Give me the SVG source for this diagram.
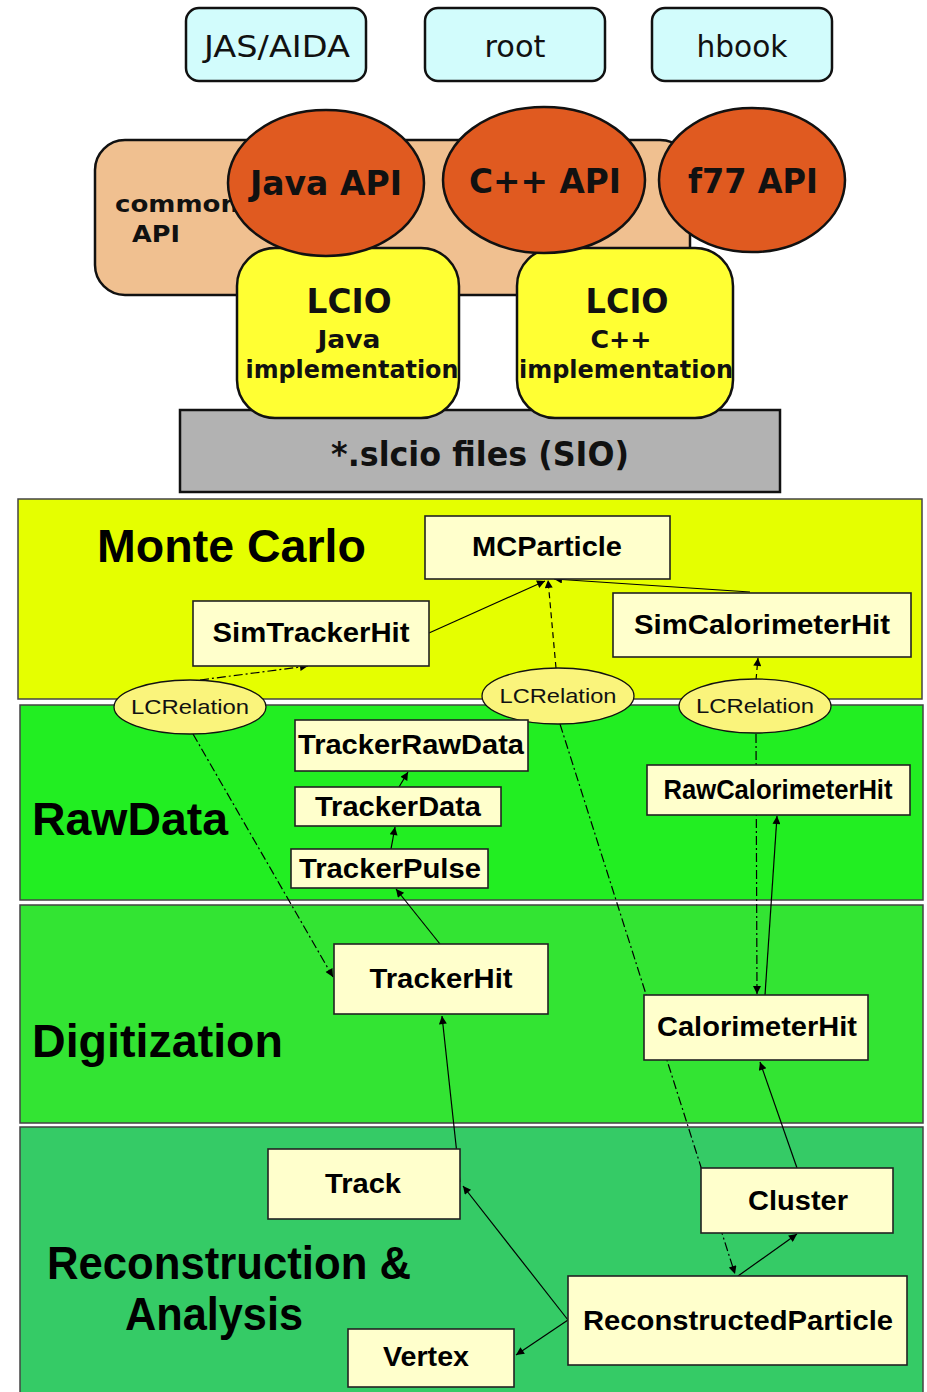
<svg xmlns="http://www.w3.org/2000/svg" width="927" height="1392" viewBox="0 0 927 1392">
  <style>
    .tool { fill: #D2FCFC; stroke: #111; stroke-width: 2.5; }
    .tooltxt { font-family: "DejaVu Sans", "Liberation Sans", sans-serif; font-size: 31px; fill: #111; text-anchor: middle; }
    .api { fill: #E05A20; stroke: #111; stroke-width: 2.5; }
    .apitxt { font-family: "DejaVu Sans", "Liberation Sans", sans-serif; font-weight: bold; font-size: 33px; fill: #111; text-anchor: middle; }
    .impl { fill: #FFFF33; stroke: #111; stroke-width: 2.5; }
    .impltxt { font-family: "DejaVu Sans", "Liberation Sans", sans-serif; font-weight: bold; fill: #111; text-anchor: middle; }
    .band { stroke: #444; stroke-width: 1.5; }
    .bandtxt { font-family: "Liberation Sans", Arial, sans-serif; font-weight: bold; font-size: 47px; fill: #000; }
    .node { fill: #FFFFCC; stroke: #222; stroke-width: 1.6; }
    .nodetxt { font-family: "Liberation Sans", Arial, sans-serif; font-weight: bold; font-size: 28px; fill: #000; text-anchor: middle; }
    .rel { fill: #FAF47C; stroke: #111; stroke-width: 1.3; }
    .reltxt { font-family: "Liberation Sans", Arial, sans-serif; font-size: 21px; fill: #111; text-anchor: middle; }
    .link { stroke: #000; stroke-width: 1.2; fill: none; marker-end: url(#arr); }
    .dashdot { stroke-dasharray: 9 3 2 3; }
    .dash { stroke-dasharray: 6 4; }
  </style>
  <defs>
    <marker id="arr" viewBox="0 0 10 10" refX="10" refY="5" markerWidth="11" markerHeight="8" markerUnits="userSpaceOnUse" orient="auto">
      <path d="M0,0 L10,5 L0,10 z" fill="#000"/>
    </marker>
  </defs>

  <rect width="927" height="1392" fill="#FFFFFF"/>

  <!-- analysis tools -->
  <g id="jas-aida">
    <rect class="tool" x="186" y="8" width="180" height="73" rx="13"/>
    <text class="tooltxt" x="277" y="57" textLength="146" lengthAdjust="spacingAndGlyphs">JAS/AIDA</text>
  </g>
  <g id="root">
    <rect class="tool" x="425" y="8" width="180" height="73" rx="13"/>
    <text class="tooltxt" x="515" y="57" textLength="61" lengthAdjust="spacingAndGlyphs">root</text>
  </g>
  <g id="hbook">
    <rect class="tool" x="652" y="8" width="180" height="73" rx="13"/>
    <text class="tooltxt" x="742" y="57" textLength="91" lengthAdjust="spacingAndGlyphs">hbook</text>
  </g>

  <!-- file layer and API stack -->
  <g id="slcio-files">
    <rect x="180" y="410" width="600" height="82" fill="#B2B2B2" stroke="#111" stroke-width="2.5"/>
    <text class="apitxt" x="480" y="466" textLength="298" lengthAdjust="spacingAndGlyphs">*.slcio files (SIO)</text>
  </g>
  <g id="common-api">
    <rect x="95" y="140" width="595" height="155" rx="30" fill="#F0C090" stroke="#111" stroke-width="2.5"/>
    <text class="impltxt" font-size="23" x="177" y="212" textLength="124" lengthAdjust="spacingAndGlyphs">common</text>
    <text class="impltxt" font-size="23" x="156" y="242" textLength="48" lengthAdjust="spacingAndGlyphs">API</text>
  </g>
  <g id="lcio-java">
    <rect class="impl" x="237" y="248" width="222" height="170" rx="38"/>
    <text class="impltxt" font-size="33" x="349" y="313" textLength="85" lengthAdjust="spacingAndGlyphs">LCIO</text>
    <text class="impltxt" font-size="25" x="349" y="348" textLength="63" lengthAdjust="spacingAndGlyphs">Java</text>
    <text class="impltxt" font-size="25" x="352" y="378" textLength="213" lengthAdjust="spacingAndGlyphs">implementation</text>
  </g>
  <g id="lcio-cpp">
    <rect class="impl" x="517" y="248" width="216" height="170" rx="38"/>
    <text class="impltxt" font-size="33" x="627" y="313" textLength="83" lengthAdjust="spacingAndGlyphs">LCIO</text>
    <text class="impltxt" font-size="25" x="621" y="348" textLength="61" lengthAdjust="spacingAndGlyphs">C++</text>
    <text class="impltxt" font-size="25" x="626" y="378" textLength="214" lengthAdjust="spacingAndGlyphs">implementation</text>
  </g>
  <g id="java-api">
    <ellipse class="api" cx="326" cy="183" rx="98" ry="73"/>
    <text class="apitxt" x="326" y="195" textLength="152" lengthAdjust="spacingAndGlyphs">Java API</text>
  </g>
  <g id="cpp-api">
    <ellipse class="api" cx="544" cy="180" rx="101" ry="73"/>
    <text class="apitxt" x="545" y="193" textLength="152" lengthAdjust="spacingAndGlyphs">C++ API</text>
  </g>
  <g id="f77-api">
    <ellipse class="api" cx="752" cy="180" rx="93" ry="72"/>
    <text class="apitxt" x="753" y="193" textLength="130" lengthAdjust="spacingAndGlyphs">f77 API</text>
  </g>

  <!-- data layers -->
  <g id="layer-montecarlo">
    <rect class="band" x="18" y="499" width="904" height="200" fill="#E5FF00"/>
    <text class="bandtxt" x="97" y="562" textLength="269" lengthAdjust="spacingAndGlyphs">Monte Carlo</text>
  </g>
  <g id="layer-rawdata">
    <rect class="band" x="20" y="705" width="903" height="195" fill="#22EE22"/>
    <text class="bandtxt" x="32" y="835" textLength="196" lengthAdjust="spacingAndGlyphs">RawData</text>
  </g>
  <g id="layer-digitization">
    <rect class="band" x="20" y="905" width="903" height="218" fill="#33E433"/>
    <text class="bandtxt" x="32" y="1057" textLength="251" lengthAdjust="spacingAndGlyphs">Digitization</text>
  </g>
  <g id="layer-reconstruction">
    <rect class="band" x="20" y="1127" width="903" height="268" fill="#35CB66"/>
    <text class="bandtxt" x="47" y="1279" textLength="364" lengthAdjust="spacingAndGlyphs">Reconstruction &amp;</text>
    <text class="bandtxt" x="125" y="1330" textLength="178" lengthAdjust="spacingAndGlyphs">Analysis</text>
  </g>

  <!-- connectors -->
  <g id="connectors">
    <line class="link" x1="429" y1="633" x2="545" y2="581"/>
    <line class="link" x1="750" y1="592" x2="554" y2="579"/>
    <line class="link dashdot" x1="200" y1="680" x2="308" y2="666"/>
    <line class="link dashdot" x1="193" y1="734" x2="333" y2="977"/>
    <line class="link dash" x1="556" y1="668" x2="548" y2="580"/>
    <line class="link dashdot" x1="560" y1="724" x2="735" y2="1274"/>
    <line class="link dash" x1="756" y1="680" x2="758" y2="658"/>
    <line class="link dashdot" x1="756" y1="734" x2="757" y2="994"/>
    <line class="link" x1="399" y1="787" x2="408" y2="772"/>
    <line class="link" x1="391" y1="849" x2="395" y2="827"/>
    <line class="link" x1="440" y1="944" x2="396" y2="889"/>
    <line class="link" x1="765" y1="995" x2="777" y2="816"/>
    <line class="link" x1="460" y1="1182" x2="442" y2="1016"/>
    <line class="link" x1="568" y1="1320" x2="463" y2="1186"/>
    <line class="link" x1="568" y1="1320" x2="516" y2="1355"/>
    <line class="link" x1="797" y1="1168" x2="760" y2="1062"/>
    <line class="link" x1="738" y1="1276" x2="797" y2="1234"/>
  </g>

  <!-- Monte Carlo classes -->
  <g id="mcparticle">
    <rect class="node" x="425" y="516" width="245" height="63"/>
    <text class="nodetxt" x="547" y="556" textLength="150" lengthAdjust="spacingAndGlyphs">MCParticle</text>
  </g>
  <g id="simtrackerhit">
    <rect class="node" x="193" y="601" width="236" height="65"/>
    <text class="nodetxt" x="311" y="642" textLength="197" lengthAdjust="spacingAndGlyphs">SimTrackerHit</text>
  </g>
  <g id="simcalorimeterhit">
    <rect class="node" x="613" y="593" width="298" height="64"/>
    <text class="nodetxt" x="762" y="634" textLength="256" lengthAdjust="spacingAndGlyphs">SimCalorimeterHit</text>
  </g>

  <!-- relation tables -->
  <g id="lcrelation-tracker">
    <ellipse class="rel" cx="190" cy="707" rx="76" ry="27"/>
    <text class="reltxt" x="190" y="714" textLength="118" lengthAdjust="spacingAndGlyphs">LCRelation</text>
  </g>
  <g id="lcrelation-particle">
    <ellipse class="rel" cx="558" cy="696" rx="76" ry="28"/>
    <text class="reltxt" x="558" y="703" textLength="117" lengthAdjust="spacingAndGlyphs">LCRelation</text>
  </g>
  <g id="lcrelation-calorimeter">
    <ellipse class="rel" cx="755" cy="706" rx="76" ry="27"/>
    <text class="reltxt" x="755" y="713" textLength="118" lengthAdjust="spacingAndGlyphs">LCRelation</text>
  </g>

  <!-- raw data classes -->
  <g id="trackerrawdata">
    <rect class="node" x="295" y="720" width="233" height="51"/>
    <text class="nodetxt" x="411" y="754" textLength="226" lengthAdjust="spacingAndGlyphs">TrackerRawData</text>
  </g>
  <g id="trackerdata">
    <rect class="node" x="295" y="787" width="206" height="39"/>
    <text class="nodetxt" x="398" y="816" textLength="166" lengthAdjust="spacingAndGlyphs">TrackerData</text>
  </g>
  <g id="trackerpulse">
    <rect class="node" x="291" y="849" width="197" height="39"/>
    <text class="nodetxt" x="390" y="878" textLength="182" lengthAdjust="spacingAndGlyphs">TrackerPulse</text>
  </g>
  <g id="rawcalorimeterhit">
    <rect class="node" x="647" y="765" width="263" height="50"/>
    <text class="nodetxt" x="778" y="799" textLength="229" lengthAdjust="spacingAndGlyphs">RawCalorimeterHit</text>
  </g>

  <!-- digitized hits -->
  <g id="trackerhit">
    <rect class="node" x="334" y="944" width="214" height="70"/>
    <text class="nodetxt" x="441" y="988" textLength="143" lengthAdjust="spacingAndGlyphs">TrackerHit</text>
  </g>
  <g id="calorimeterhit">
    <rect class="node" x="644" y="995" width="224" height="65"/>
    <text class="nodetxt" x="757" y="1036" textLength="200" lengthAdjust="spacingAndGlyphs">CalorimeterHit</text>
  </g>

  <!-- reconstruction classes -->
  <g id="track">
    <rect class="node" x="268" y="1149" width="192" height="70"/>
    <text class="nodetxt" x="363" y="1193" textLength="76" lengthAdjust="spacingAndGlyphs">Track</text>
  </g>
  <g id="cluster">
    <rect class="node" x="701" y="1168" width="192" height="65"/>
    <text class="nodetxt" x="798" y="1210" textLength="100" lengthAdjust="spacingAndGlyphs">Cluster</text>
  </g>
  <g id="reconstructedparticle">
    <rect class="node" x="568" y="1276" width="339" height="89"/>
    <text class="nodetxt" x="738" y="1330" textLength="310" lengthAdjust="spacingAndGlyphs">ReconstructedParticle</text>
  </g>
  <g id="vertex">
    <rect class="node" x="348" y="1329" width="166" height="58"/>
    <text class="nodetxt" x="426" y="1366" textLength="86" lengthAdjust="spacingAndGlyphs">Vertex</text>
  </g>
</svg>
